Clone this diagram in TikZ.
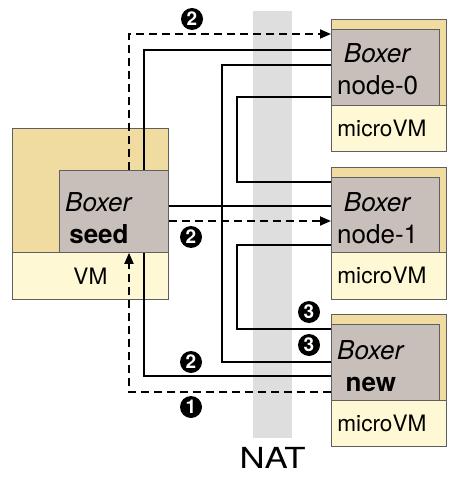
\documentclass[tikz,border=0pt]{standalone}
\usepackage{fontspec}
\setmainfont{TeX Gyre Heros}
\usetikzlibrary{arrows.meta,positioning,calc}
\definecolor{shelltan}{RGB}{240,220,160}
\definecolor{coregray}{RGB}{200,190,186}
\definecolor{vmyellow}{RGB}{254,249,212}
\definecolor{natgray}{RGB}{222,222,222}
\definecolor{edgegray}{RGB}{95,95,95}

\begin{document}
\begin{tikzpicture}[
  x=1pt, y=-1pt,
  shell/.style={draw=edgegray, fill=shelltan, line width=0.8pt, anchor=north west, inner sep=0pt, minimum width=115pt, minimum height=86pt},
  core/.style={draw=edgegray, fill=coregray, line width=0.8pt, anchor=north west, inner sep=0pt, minimum width=108pt, minimum height=76pt},
  vmbox/.style={draw=edgegray, fill=vmyellow, line width=0.8pt, anchor=north west, inner xsep=6pt, inner ysep=0pt, text width=103pt, align=left, minimum height=46pt, font=\fontsize{22.6}{27}\selectfont},
  boxname/.style={anchor=north west, inner sep=0pt, align=center, font=\fontsize{26}{32}\selectfont},
  num/.style={circle, fill=black, text=white, inner sep=0pt, minimum size=22pt, font=\fontsize{19}{19}\selectfont\bfseries},
  link/.style={line width=1.8pt},
  dlink/.style={line width=1.8pt, dash pattern=on 8pt off 5pt, -{Triangle[length=11pt,width=9pt]}}
]
\useasboundingbox (0,0) rectangle (448,478);

% NAT band
\node[fill=natgray, anchor=north west, inner sep=0pt, minimum width=39pt, minimum height=427pt] (natband) at (253,11) {};
\node[below=9pt of natband, inner sep=0pt, xscale=1.2, font=\fontsize{29}{29}\selectfont] (nat) {NAT};

% seed VM
\node[shell, minimum width=156pt, minimum height=124pt] (seedshell) at (12,128) {};
\node[core, minimum width=109pt, minimum height=82pt] (seed) at (59,170) {};
\node[vmbox, text width=156pt, inner xsep=0pt, align=center, minimum height=47pt] (seedvm) at (12,252) {VM};
\node[boxname] (seedtxt) at (65,192) {\textit{Boxer}\\\textbf{seed}};

% microVMs
\node[shell] (node0shell) at (331,19) {};
\node[core] (node0) at (331,29) {};
\node[vmbox] (node0vm) at (331,105) {microVM};
\node[boxname] (node0txt) at (337,43) {\textit{Boxer}\\node-0};

\node[shell] (node1shell) at (331,167) {};
\node[core] (node1) at (331,177) {};
\node[vmbox, minimum height=47pt] (node1vm) at (331,252) {microVM};
\node[boxname] (node1txt) at (337,192) {\textit{Boxer}\\node-1};

\node[shell] (newshell) at (331,314) {};
\node[core] (new) at (331,324) {};
\node[vmbox] (newvm) at (331,400) {microVM};
\node[boxname] (newtxt) at (337,340) {\textit{Boxer}\\\textbf{new}};

% links
\draw[dlink] ([xshift=70pt]seed.north west) |- ([yshift=-5pt]node0.north west);
\draw[link] ([xshift=85pt]seed.north west) |- ([yshift=-21pt]node0.north west);
\draw[link] ([yshift=-36pt]node0.north west) -- ++(-109,0) |- ([yshift=-38pt]new.north west);
\draw[link] ([yshift=-68pt]node0.north west) -- ++(-94,0) |- ([yshift=-5pt]node1.north west);
\draw[link] ([yshift=-68pt]node1.north west) -- ++(-94,0) |- ([yshift=-5pt]new.north west);
\coordinate (s1) at ([yshift=-36pt]seed.north east);
\coordinate (s2) at ([yshift=-51pt]seed.north east);
\draw[link] (s1) -- (s1 -| node1.west);
\draw[dlink] (s2) -- (s2 -| node1.west);
\draw[link] ([xshift=85pt]seed.south west) |- ([yshift=-52pt]new.north west);
\draw[dlink] ([yshift=-68pt]new.north west) -| ([xshift=70pt]seed.south west);

% steps
\node[num] (stepa) at (192,19) {2};
\node[num] (stepb) at (191,237) {2};
\node[num] (stepc) at (191,362) {2};
\node[num] (stepd) at (191,407) {1};
\node[num] (stepe) at (309,312) {3};
\node[num] (stepf) at (309,345) {3};
\end{tikzpicture}
\end{document}
